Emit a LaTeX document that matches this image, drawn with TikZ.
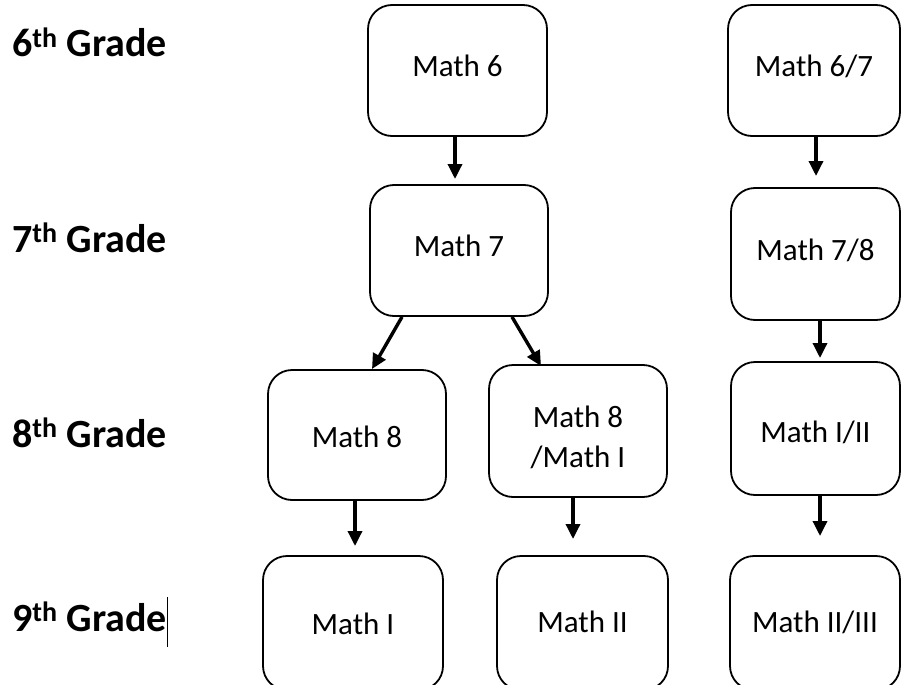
\documentclass[tikz,border=0pt]{standalone}
\usepackage{fontspec}
\setmainfont{Carlito}
\usetikzlibrary{arrows.meta}
\begin{document}
\begin{tikzpicture}[x=1pt,y=-1pt,
  box/.style={draw, line width=1.8pt, rounded corners=24pt, inner sep=0pt},
  btext/.style={align=center, inner sep=0pt, font=\fontsize{31}{40}\selectfont},
  arr/.style={line width=3.4pt, -{Triangle[length=15pt,width=14pt]}},
  grade/.style={anchor=base west, inner sep=0pt, font=\fontsize{40}{44}\selectfont\bfseries}]
\useasboundingbox (0,0) rectangle (902,685);
\clip (0,0) rectangle (902,685);
% boxes
\node[box, minimum width=179pt, minimum height=131pt,
  label={[btext,yshift=4.5pt]center:Math 6}] (m6) at (457.5,70.5) {};
\node[box, minimum width=172pt, minimum height=131pt,
  label={[btext,yshift=4pt]center:Math 6/7}] (m67) at (814,70.5) {};
\node[box, minimum width=178pt, minimum height=131pt,
  label={[btext,yshift=5pt]center:Math 7}] (m7) at (459,250.5) {};
\node[box, minimum width=169pt, minimum height=132pt,
  label={[btext,yshift=4pt]center:Math 7/8}] (m78) at (815.5,254) {};
\node[box, minimum width=178pt, minimum height=130pt,
  label={[btext,yshift=-2pt]center:Math 8}] (m8) at (357,435) {};
\node[box, minimum width=178pt, minimum height=132pt,
  label={[btext,yshift=-6pt]center:Math 8\\/Math I}] (m8I) at (578,431) {};
\node[box, minimum width=169pt, minimum height=133pt,
  label={[btext,yshift=-4pt]center:Math I/II}] (mI2) at (815.5,428.5) {};
\node[box, minimum width=180pt, minimum height=134pt,
  label={[btext,yshift=-1pt]center:Math I}] (mI) at (353,623) {};
\node[box, minimum width=171pt, minimum height=134pt,
  label={[btext,yshift=1pt]center:Math II}] (mII) at (582.5,623) {};
\node[box, minimum width=170pt, minimum height=134pt,
  label={[btext,yshift=1pt]center:Math II/III}] (mII3) at (815,623) {};
% arrow tips
\coordinate (t1) at (455,179);
\coordinate (t2) at (816,176);
\coordinate (t3) at (372,369);
\coordinate (t4) at (541,366);
\coordinate (t5) at (820,358);
\coordinate (t6) at (355,546);
\coordinate (t7) at (573,539);
\coordinate (t8) at (820,536);
\coordinate (s3) at (402,0);
\coordinate (s4) at (512,0);
\draw[arr] (t1 |- m6.south) -- (t1);
\draw[arr] (t2 |- m67.south) -- (t2);
\draw[arr] (s3 |- m7.south) -- (t3);
\draw[arr] (s4 |- m7.south) -- (t4);
\draw[arr] (t5 |- m78.south) -- (t5);
\draw[arr] (t6 |- m8.south) -- (t6);
\draw[arr] (t7 |- m8I.south) -- (t7);
\draw[arr] (t8 |- mI2.south) -- (t8);
% grade labels
\node[grade] (g6) at (12,57) {6\textsuperscript{th} Grade};
\node[grade] (g7) at (12,252) {7\textsuperscript{th} Grade};
\node[grade] (g8) at (12,447) {8\textsuperscript{th} Grade};
\node[grade] (g9) at (12,631) {9\textsuperscript{th} Grade};
\coordinate (c1) at (167,597);
\coordinate (c2) at (167,647);
\draw[line width=1pt] (c1) -- (c2);
\end{tikzpicture}
\end{document}
